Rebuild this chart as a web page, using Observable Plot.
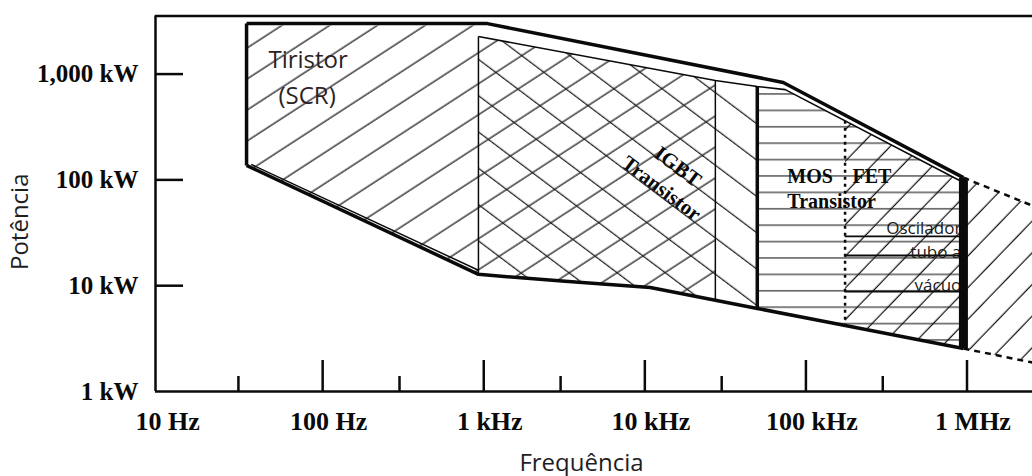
<!DOCTYPE html>
<html><head><meta charset="utf-8">
<script src="https://cdn.jsdelivr.net/npm/d3@7"></script>
<script src="https://cdn.jsdelivr.net/npm/@observablehq/plot@0.6"></script>
<style>
html,body{margin:0;padding:0;background:#fff;}
</style></head><body><div id="chart"></div>
<script>
// ---- scales / ticks ----
const xDomain = [9.17, 2.55e6];            // Hz
const yDomain = [1, 3540];                 // kW
const xTickValues = [10, 100, 1e3, 1e4, 1e5, 1e6];
const xTickLabels = ["10 Hz", "100 Hz", "1 kHz", "10 kHz", "100 kHz", "1 MHz"];
const xMajorTicks = [100, 1e3, 1e4, 1e5, 1e6];
const xMinorTicks = [30, 300, 3e3, 3e4, 3e5];
const yTickValues = [1, 10, 100, 1000];
const yTickLabels = ["1 kW", "10 kW", "100 kW", "1,000 kW"];
const yTickMarks = [10, 100, 1000];

// ---- regions: [frequency Hz, power kW] ----
const thyristorRegion = [[33.7,2880],[927,2880],[927,2266],[27400,870],[27400,7.3],[10800,9.6],[3200,11.0],[927,12.8],[33.7,137]];
const igbtRegion = [[927,2266],[27400,870],[49900,764],[49900,6.09],[27400,7.3],[10800,9.6],[3200,11.0],[927,12.8]];
const mosfetRegion = [[49900,764],[74400,713],[950000,94.5],[950000,2.55],[163000,4.3],[49900,6.09]];
const tubeRegion = [[175000,362],[950000,94.5],[950000,105],[2.55e6,57],[2.55e6,1.88],[950000,2.55],[175000,4.2]];

// ---- outlines ----
const outerTop = [[33.7,3000],[1054,3000],[72300,833],[950000,105]];
const innerTop = [[927,2266],[27400,870],[49900,764],[74400,713],[950000,94.5]];
const outerBottom = [[33.7,137],[927,12.8],[3200,11.0],[10800,9.6],[27400,7.3],[49900,6.09],[163000,4.3],[950000,2.55]];
const innerBottom = [[36,140],[927,14.0]];
const thyristorLeft = [[33.7,3000],[33.7,137]];
const igbtLeft = [[927,2266],[927,12.8]];
const thyristorRight = [[27400,870],[27400,7.3]];
const mosfetLeft = [[49900,764],[49900,6.09]];
const mosfetRight = [[950000,105],[950000,2.55]];
const tubeLeft = [[175000,362],[175000,4.2]];
const tubeTopDashed = [[950000,105],[2.55e6,57]];
const tubeBottomDashed = [[950000,2.55],[2.55e6,1.88]];
const tubeRules = [29.2, 19.3, 8.8];       // kW, from 175 kHz to 950 kHz

// ---- labels ----
const sansLabels = [
  {text: "Tiristor", f: 46.1, p: 1130},
  {text: "(SCR)", f: 53.2, p: 516}
];
const igbtLabel = [{text: "IGBT\nTransistor", f: 14500, p: 109}];
const mosfetLabels = [
  {text: "MOS", f: 76700, p: 92.5},
  {text: "FET", f: 194500, p: 92.5},
  {text: "Transistor", f: 76700, p: 54.8}
];
const tubeLabels = [
  {text: "Oscilador", f: 922000, p: 30.5},
  {text: "tubo a", f: 922000, p: 18.1},
  {text: "vácuo", f: 922000, p: 9.0}
];

const patterns = [
  {id: "hScr", angle: -33, gap: 26, color: "#151515", width: 1.2},
  {id: "hIgbt", angle: 37, gap: 29, color: "#202020", width: 1.2},
  {id: "hMos", angle: 0, gap: 16.4, color: "#6a6a6a", width: 1.6},
  {id: "hTube", angle: -46, gap: 22, color: "#151515", width: 1.3}
];
function hatchDefs() {
  const defs = d3.create("svg:defs");
  for (const p of patterns) {
    const pat = defs.append("pattern").attr("id", p.id)
      .attr("patternUnits", "userSpaceOnUse")
      .attr("width", 80).attr("height", p.gap)
      .attr("patternTransform", `rotate(${p.angle})`);
    pat.append("line").attr("x1", 0).attr("x2", 80)
      .attr("y1", p.gap * 0.7).attr("y2", p.gap * 0.7)
      .attr("stroke", p.color).attr("stroke-width", p.width);
  }
  return defs.node();
}

const X = d => d[0], Y = d => d[1];
const poly = (data, id) => Plot.line(data, {x: X, y: Y, fill: `url(#${id})`, stroke: "none"});
const seg = (data, w, extra = {}) => Plot.line(data, {x: X, y: Y, stroke: "#0a0a0a", strokeWidth: w, strokeLinecap: "butt", ...extra});
const serif = "Liberation Serif, Times New Roman, serif";
const sans = "Open Sans, Noto Sans, sans-serif";

const chart = Plot.plot({
  width: 1032, height: 476,
  marginLeft: 155, marginRight: 0, marginTop: 15.5, marginBottom: 85,
  x: {type: "log", domain: xDomain},
  y: {type: "log", domain: yDomain},
  style: {background: "#fff", color: "#0a0a0a", fontFamily: serif},
  marks: [
    hatchDefs,
    poly(thyristorRegion, "hScr"),
    poly(igbtRegion, "hIgbt"),
    poly(mosfetRegion, "hMos"),
    poly(tubeRegion, "hTube"),
    Plot.ruleY(tubeRules, {y: d => d, x1: 175000, x2: 950000, stroke: "#0a0a0a", strokeWidth: 1.8}),
    // outlines
    seg(outerTop, 3.5),
    seg(innerTop, 1.6),
    seg(outerBottom, 3.5),
    seg(innerBottom, 1.5),
    seg(thyristorLeft, 3.5),
    seg(igbtLeft, 1.5),
    seg(thyristorRight, 1.5),
    seg(mosfetLeft, 3.5),
    seg(tubeLeft, 2.5, {strokeDasharray: "3,4"}),
    seg(tubeTopDashed, 2.5, {strokeDasharray: "6,5"}),
    seg(tubeBottomDashed, 2.5, {strokeDasharray: "6,5"}),
    // labels
    Plot.text(sansLabels, {x: "f", y: "p", text: "text", textAnchor: "start", lineAnchor: "bottom", fontFamily: sans, fontSize: 24, fill: "#2b2323"}),
    Plot.text(igbtLabel, {x: "f", y: "p", text: "text", rotate: 37, lineAnchor: "middle", lineHeight: 1.3, fontFamily: serif, fontWeight: "bold", fontSize: 21, fill: "#0a0a0a"}),
    Plot.text(mosfetLabels, {x: "f", y: "p", text: "text", textAnchor: "start", lineAnchor: "bottom", fontFamily: serif, fontWeight: "bold", fontSize: 20, fill: "#0a0a0a"}),
    Plot.text(tubeLabels, {x: "f", y: "p", text: "text", textAnchor: "end", lineAnchor: "bottom", fontFamily: sans, fontSize: 17, fill: "#1a1a1a"}),
    seg(mosfetRight, 9),
    // axes
    Plot.ruleX([xDomain[0]], {stroke: "#0a0a0a", strokeWidth: 2.5}),
    Plot.ruleY([yDomain[0]], {stroke: "#0a0a0a", strokeWidth: 2.5}),
    Plot.ruleY([yDomain[1]], {stroke: "#0a0a0a", strokeWidth: 2.5}),
    Plot.tickX(xMajorTicks, {x: d => d, insetTop: 344.5, stroke: "#0a0a0a", strokeWidth: 2.5}),
    Plot.tickX(xMinorTicks, {x: d => d, insetTop: 360.5, stroke: "#0a0a0a", strokeWidth: 2.5}),
    Plot.tickY(yTickMarks, {y: d => d, insetRight: 849, stroke: "#0a0a0a", strokeWidth: 2.5}),
    Plot.axisX({ticks: xTickValues, tickFormat: d => xTickLabels[xTickValues.indexOf(d)], tickSize: 0, tickPadding: 20, dx: 6, fontSize: 26, fontWeight: "bold", fontFamily: serif, fill: "#0a0a0a", label: null}),
    Plot.axisY({ticks: yTickValues, tickFormat: d => yTickLabels[yTickValues.indexOf(d)], tickSize: 0, tickPadding: 17, fontSize: 25, fontWeight: "bold", fontFamily: serif, fill: "#0a0a0a", label: null}),
    Plot.text(["Frequência"], {frameAnchor: "bottom", dx: -12.5, dy: 79, textAnchor: "middle", lineAnchor: "bottom", fontFamily: sans, fontSize: 24, fill: "#1e1e1e"}),
    Plot.text(["Potência"], {frameAnchor: "left", dx: -135, dy: 18, rotate: -90, textAnchor: "middle", lineAnchor: "middle", fontFamily: sans, fontSize: 24, fill: "#1e1e1e"})
  ]
});
document.getElementById("chart").appendChild(chart);
</script>
</body></html>
